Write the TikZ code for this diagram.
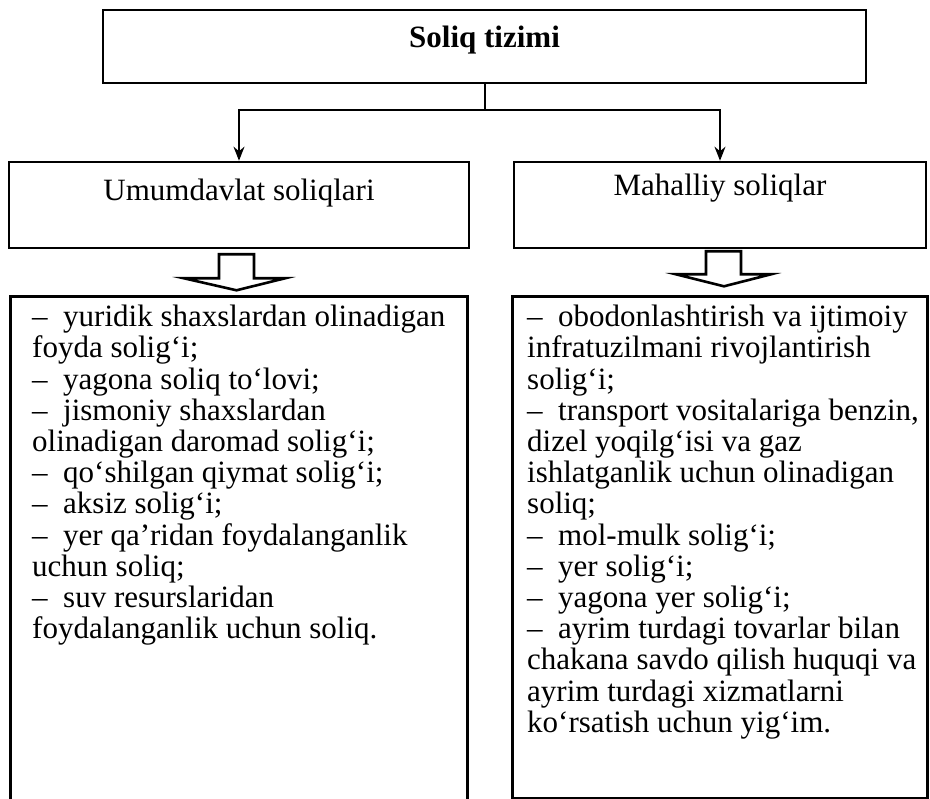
\documentclass[tikz,border=0pt]{standalone}
\usepackage{fontspec}
\setmainfont{Liberation Serif}
\usetikzlibrary{arrows.meta, positioning}

\begin{document}
\begin{tikzpicture}[x=1pt, y=-1pt, font=\fontsize{31}{31.2}\selectfont,
    box/.style={draw, line width=2.6pt, inner sep=0pt},
    lst/.style={anchor=north west, align=left, inner sep=0pt},
    blkarrow/.style={draw, fill=white, line width=2.6pt, line join=miter}]
    \useasboundingbox (0,0) rectangle (930,799);
    % boxes
    \node[box, minimum width=763pt, minimum height=73pt] (sys) at (484.5,46.5) {};
    \node[font=\fontsize{31}{31}\selectfont\bfseries] (syslbl) at ([yshift=6pt]sys.center) {Soliq tizimi};
    \node[box, minimum width=460pt, minimum height=86pt] (state) at (239,205) {};
    \node (statelbl) at ([yshift=12pt]state.center) {Umumdavlat soliqlari};
    \node[box, minimum width=412pt, minimum height=86pt] (local) at (720,205) {};
    \node (locallbl) at ([yshift=17pt]local.center) {Mahalliy soliqlar};
    % connectors
    \coordinate (split) at ([yshift=-26pt]sys.south);
    \draw[line width=2pt] (sys.south) -- (split);
    \draw[line width=2pt, -{Stealth[length=14pt, width=11pt]}] (split) -| (state.north);
    \draw[line width=2pt, -{Stealth[length=14pt, width=11pt]}] (split) -| (local.north);
    % block arrows
    \draw[blkarrow] ([xshift=-20pt,yshift=-5pt]state.south) -- ++(35,0) -- ++(0,24) -- ++(31,0)
        -- ++(-48.5,12) -- ++(-52.5,-12) -- ++(35,0) -- cycle;
    \draw[blkarrow] ([xshift=-14pt,yshift=-2pt]local.south) -- ++(35,0) -- ++(0,23) -- ++(30,0)
        -- ++(-47,12) -- ++(-48,-12) -- ++(30,0) -- cycle;
    % lists
    \node[box, anchor=north west, minimum width=457pt, minimum height=530pt] (statebox) at (9,295) {};
    \node[box, anchor=north west, minimum width=415pt, minimum height=502pt] (localbox) at (511,295) {};
    \node[lst] (statelist) at ([xshift=23pt,yshift=-10pt]statebox.north west) {%
      –\enspace yuridik shaxslardan olinadigan\\
      foyda solig‘i;\\
      –\enspace yagona soliq to‘lovi;\\
      –\enspace jismoniy shaxslardan\\
      olinadigan daromad solig‘i;\\
      –\enspace qo‘shilgan qiymat solig‘i;\\
      –\enspace aksiz solig‘i;\\
      –\enspace yer qa’ridan foydalanganlik\\
      uchun soliq;\\
      –\enspace suv resurslaridan\\
      foydalanganlik uchun soliq.};
    \node[lst] (locallist) at ([xshift=16pt,yshift=-10pt]localbox.north west) {%
      –\enspace obodonlashtirish va ijtimoiy\\
      infratuzilmani rivojlantirish\\
      solig‘i;\\
      –\enspace transport vositalariga benzin,\\
      dizel yoqilg‘isi va gaz\\
      ishlatganlik uchun olinadigan\\
      soliq;\\
      –\enspace mol-mulk solig‘i;\\
      –\enspace yer solig‘i;\\
      –\enspace yagona yer solig‘i;\\
      –\enspace ayrim turdagi tovarlar bilan\\
      chakana savdo qilish huquqi va\\
      ayrim turdagi xizmatlarni\\
      ko‘rsatish uchun yig‘im.};
\end{tikzpicture}
\end{document}
